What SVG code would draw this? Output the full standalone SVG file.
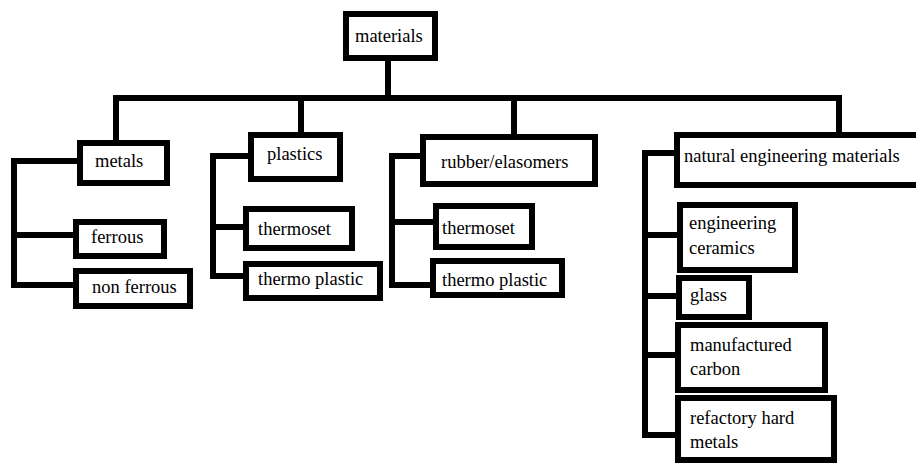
<svg xmlns="http://www.w3.org/2000/svg" width="916" height="466" viewBox="0 0 916 466">
<style>
.box{fill:#fff;stroke:#000;stroke-width:6}
.con{fill:none;stroke:#000;stroke-width:6;stroke-linejoin:miter;stroke-linecap:butt}
</style>
<rect width="916" height="466" fill="#fff"/>
<g id="connectors">
<path class="con" d="M388 61 V98 M113 98 H842 M116 98 V140 M301 98 V132 M514 98 V134 M839 98 V132"/>
<path class="con" d="M77 161 H14 V285 H73 M14 235 H73"/>
<path class="con" d="M248 156 H213 V276 H243 M213 227 H243"/>
<path class="con" d="M420 156 H392 V285 H430 M392 222 H433"/>
<path class="con" d="M674 153 H645 V435 H675 M645 235 H677 M645 296 H676 M645 355 H675"/>
</g>
<g id="materials"><rect class="box" x="346" y="14" width="89" height="44"/><text font-family="Liberation Serif" font-size="18.5" x="355" y="42">materials</text></g>
<g id="metals"><rect class="box" x="80" y="143" width="87" height="40"/><text font-family="Liberation Serif" font-size="18.5" x="95" y="167">metals</text></g>
<g id="ferrous"><rect class="box" x="76" y="222" width="88" height="34"/><text font-family="Liberation Serif" font-size="18.5" x="91" y="243">ferrous</text></g>
<g id="non-ferrous"><rect class="box" x="76" y="271" width="114" height="35"/><text font-family="Liberation Serif" font-size="18.5" x="92" y="293">non ferrous</text></g>
<g id="plastics"><rect class="box" x="251" y="135" width="89" height="44"/><text font-family="Liberation Serif" font-size="18.5" x="267" y="160">plastics</text></g>
<g id="plastics-thermoset"><rect class="box" x="246" y="209" width="106" height="39"/><text font-family="Liberation Serif" font-size="18.5" x="258" y="235">thermoset</text></g>
<g id="plastics-thermoplastic"><rect class="box" x="246" y="264" width="134" height="34"/><text font-family="Liberation Serif" font-size="18.5" x="258" y="285">thermo plastic</text></g>
<g id="rubber"><rect class="box" x="423" y="137" width="172" height="47"/><text font-family="Liberation Serif" font-size="18.5" x="441" y="168">rubber/elasomers</text></g>
<g id="rubber-thermoset"><rect class="box" x="436" y="206" width="96" height="41"/><text font-family="Liberation Serif" font-size="18.5" x="442" y="234">thermoset</text></g>
<g id="rubber-thermoplastic"><rect class="box" x="433" y="261" width="129" height="34"/><text font-family="Liberation Serif" font-size="18.5" x="442" y="286">thermo plastic</text></g>
<g id="natural"><rect class="box" x="677" y="135" width="260" height="50"/><text font-family="Liberation Serif" font-size="18.5" x="684" y="162">natural engineering materials</text></g>
<g id="ceramics"><rect class="box" x="680" y="205" width="115" height="65"/><text font-family="Liberation Serif" font-size="18.5" x="689" y="229">engineering</text><text font-family="Liberation Serif" font-size="18.5" x="689" y="254">ceramics</text></g>
<g id="glass"><rect class="box" x="679" y="278" width="70" height="39"/><text font-family="Liberation Serif" font-size="18.5" x="690" y="301">glass</text></g>
<g id="carbon"><rect class="box" x="678" y="325" width="147" height="65"/><text font-family="Liberation Serif" font-size="18.5" x="690" y="351">manufactured</text><text font-family="Liberation Serif" font-size="18.5" x="690" y="375">carbon</text></g>
<g id="hard-metals"><rect class="box" x="678" y="398" width="156" height="62"/><text font-family="Liberation Serif" font-size="18.5" x="690" y="424">refactory hard</text><text font-family="Liberation Serif" font-size="18.5" x="690" y="448">metals</text></g>
</svg>
